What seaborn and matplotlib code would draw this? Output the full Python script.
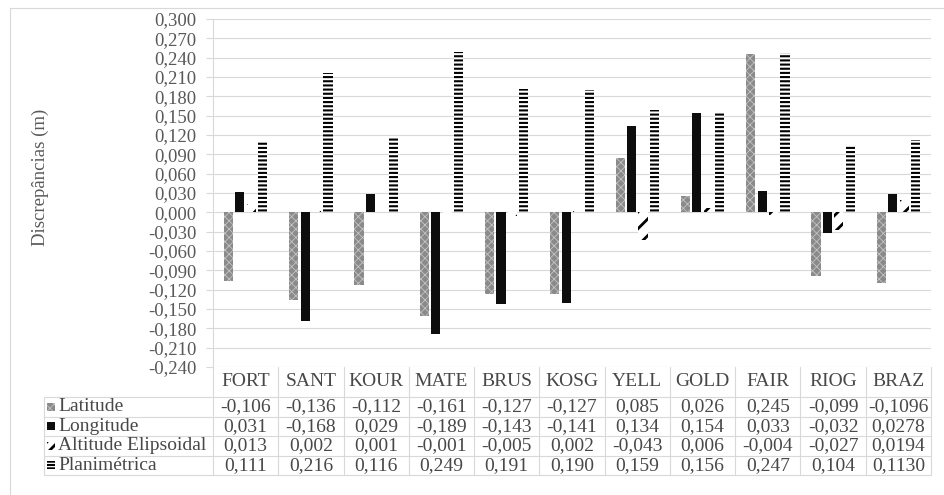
import numpy as np
import pandas as pd
import matplotlib
matplotlib.use("Agg")
import matplotlib.pyplot as plt
import seaborn as sns
from matplotlib.lines import Line2D
from matplotlib.patches import Rectangle
from matplotlib.ticker import MultipleLocator, FuncFormatter
from matplotlib.transforms import blended_transform_factory

# ---------------- data ----------------
stations = ["FORT", "SANT", "KOUR", "MATE", "BRUS", "KOSG", "YELL", "GOLD", "FAIR", "RIOG", "BRAZ"]
latitude = [-0.106, -0.136, -0.112, -0.161, -0.127, -0.127, 0.085, 0.026, 0.245, -0.099, -0.1096]
longitude = [0.031, -0.168, 0.029, -0.189, -0.143, -0.141, 0.134, 0.154, 0.033, -0.032, 0.0278]
altitude = [0.013, 0.002, 0.001, -0.001, -0.005, 0.002, -0.043, 0.006, -0.004, -0.027, 0.0194]
planimetrica = [0.111, 0.216, 0.116, 0.249, 0.191, 0.190, 0.159, 0.156, 0.247, 0.104, 0.1130]
decimals = [3, 3, 3, 3, 3, 3, 3, 3, 3, 3, 4]
series_names = ["Latitude", "Longitude", "Altitude Elipsoidal", "Planimétrica"]
series_values = [latitude, longitude, altitude, planimetrica]
y_label = "Discrepâncias (m)"

# ---------------- style ----------------
sns.set_theme(style="white")
plt.rcParams["font.family"] = ["Liberation Serif", "DejaVu Serif"]
FS = 13.5
FS_T = 14
TICK_C = "#595959"
TEXT_C = "#484848"
GRID_C = "#d9d9d9"

W, H = 944, 495
fig = plt.figure(figsize=(W / 100, H / 100), dpi=100)
fig.patch.set_facecolor("white")

def fx(px):
    return px / W

def fy(py):
    return 1 - py / H

ax_l, ax_r, ax_t, ax_b = 213, 931, 19, 367
ax = fig.add_axes([fx(ax_l), fy(ax_b), fx(ax_r) - fx(ax_l), fy(ax_t) - fy(ax_b)])

rows = []
for name, vals in zip(series_names, series_values):
    for st, v in zip(stations, vals):
        rows.append({"station": st, "series": name, "value": v})
df = pd.DataFrame(rows)

sns.barplot(data=df, x="station", y="value", hue="series", order=stations,
            hue_order=series_names, width=0.7, gap=0.2, errorbar=None,
            saturation=1, legend=False, ax=ax)

styles = [
    dict(face="#8a8a8a", edge="#c4c4c4", hatch="xxxx", hlw=0.6),
    dict(face="#0d0d0d", edge="#0d0d0d", hatch=None, hlw=0.5),
    dict(face="white", edge="black", hatch="//", hlw=2.0),
    dict(face="white", edge="black", hatch="----", hlw=1.5),
]
key_hatch = ["xxxx", None, "///", "-----"]

def style_patch(p, s, hatch=None):
    p.set_facecolor(s["face"])
    p.set_edgecolor(s["edge"])
    p.set_linewidth(0)
    h = hatch if hatch is not None else s["hatch"]
    if h:
        p.set_hatch(h)
        if hasattr(p, "set_hatch_linewidth"):
            p.set_hatch_linewidth(s["hlw"])

for cont, s in zip(ax.containers, styles):
    for bar in cont:
        style_patch(bar, s)

ax.set_ylim(-0.24, 0.30)
ax.set_xlim(-0.5, len(stations) - 0.5)
ax.yaxis.set_major_locator(MultipleLocator(0.03))
ax.yaxis.set_major_formatter(FuncFormatter(lambda v, p: f"{v:.3f}".replace(".", ",").replace("-0,000", "0,000")))
ax.grid(axis="y", color=GRID_C, linewidth=0.8)
ax.set_axisbelow(True)
for sp in ["top", "right", "bottom"]:
    ax.spines[sp].set_visible(False)
ax.spines["left"].set_color(GRID_C)
ax.spines["left"].set_linewidth(0.8)
ax.tick_params(axis="y", left=True, length=5, width=0.8, color=GRID_C,
               labelcolor=TICK_C, labelsize=FS, pad=7)
ax.tick_params(axis="x", bottom=False, labelbottom=False)
ax.set_xlabel("")
ax.set_ylabel(y_label, fontsize=FS, color=TICK_C)
ax.yaxis.set_label_coords((49 - ax_l) / (ax_r - ax_l), (ax_b - 177) / (ax_b - ax_t))

# ---------------- data table ----------------
bt = blended_transform_factory(ax.transData, fig.transFigure)
row_edges = [397, 416.5, 436, 455.5, 475]
label_left = 44
head_y = 382

# horizontal lines
for yy in row_edges:
    fig.add_artist(Line2D([fx(label_left), fx(ax_r)], [fy(yy), fy(yy)],
                          color=GRID_C, linewidth=0.8, transform=fig.transFigure))
# vertical lines
for k in range(len(stations) + 1):
    ax.add_artist(Line2D([k - 0.5, k - 0.5], [fy(ax_b), fy(row_edges[-1])],
                         color=GRID_C, linewidth=0.8, transform=bt, clip_on=False))
fig.add_artist(Line2D([fx(label_left), fx(label_left)], [fy(row_edges[0]), fy(row_edges[-1])],
                      color=GRID_C, linewidth=0.8, transform=fig.transFigure))

# header
for i, st in enumerate(stations):
    ax.text(i, fy(head_y), st, transform=bt, ha="center", va="center",
            fontsize=FS_T, color=TEXT_C, clip_on=False)

# rows
for r, (name, vals, s) in enumerate(zip(series_names, series_values, styles)):
    yc = (row_edges[r] + row_edges[r + 1]) / 2
    for i, (v, d) in enumerate(zip(vals, decimals)):
        ax.text(i, fy(yc), f"{v:.{d}f}".replace(".", ","), transform=bt,
                ha="center", va="center", fontsize=FS_T, color=TEXT_C, clip_on=False)
    fig.text(fx(58), fy(yc), name, ha="left", va="center", fontsize=FS_T, color=TEXT_C)
    key = Rectangle((fx(47), fy(yc + 4)), fx(8), 8 / H, transform=fig.transFigure)
    style_patch(key, s, key_hatch[r])
    fig.add_artist(key)

# outer chart frame
fig.add_artist(Line2D([fx(10), fx(W)], [fy(8), fy(8)], color=GRID_C, linewidth=0.8,
                      transform=fig.transFigure))
fig.add_artist(Line2D([fx(10), fx(10)], [fy(8), fy(H)], color=GRID_C, linewidth=0.8,
                      transform=fig.transFigure))

fig.savefig("out.png", dpi=100, facecolor="white")
